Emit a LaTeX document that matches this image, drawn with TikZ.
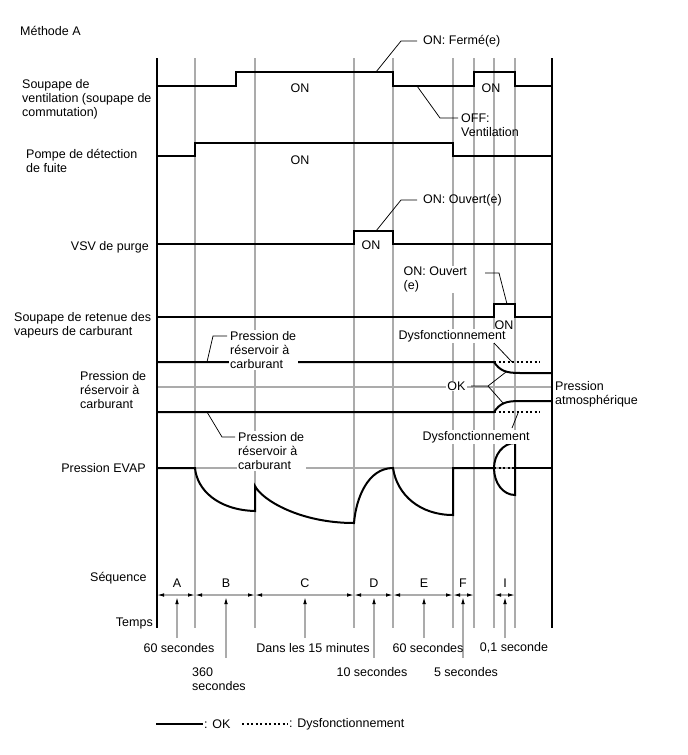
\documentclass[tikz,border=0pt]{standalone}
\usepackage{fontspec}
\setmainfont{Liberation Sans}
\usetikzlibrary{arrows.meta}
\begin{document}
\begin{tikzpicture}[x=1pt,y=-1pt,
  lbl/.style={inner sep=0pt, font=\fontsize{12.5}{14}\selectfont, align=left},
  wlbl/.style={lbl, fill=white, inner xsep=1.5pt, inner ysep=1pt},
  sig/.style={line width=2pt, line join=miter},
  gridv/.style={line width=1.1pt, draw=black!33},
  frame/.style={line width=2pt},
  lead/.style={line width=0.75pt},
  dotted2/.style={line width=2pt, dash pattern=on 2.2pt off 2.3pt},
  dimarr/.style={line width=1.1pt, draw=black!33, {Latex[length=7pt,width=3.6pt,color=black]}-{Latex[length=7pt,width=3.6pt,color=black]}},
  ptr/.style={line width=1.1pt, draw=black!33, -{Latex[length=7pt,width=3.6pt,color=black]}},
]
\useasboundingbox (0,0) rectangle (688,755);
% grid lines
\foreach \x in {195,255,354,393,453,474,494,515} \draw[gridv] (\x,58) -- (\x,628);
\draw[gridv] (157,387) -- (552,387);
\draw[gridv] (157,468) -- (552,468);
\draw[frame] (157,58) -- (157,628);
\draw[frame] (552,58) -- (552,628);

% title and row labels
\node[lbl, anchor=west] (title) at (20,31) {Méthode A};
\node[lbl, anchor=west] (rvent) at (22,99) {Soupape de\\ventilation (soupape de\\commutation)};
\node[lbl, anchor=west] (rpompe) at (26,161) {Pompe de détection\\de fuite};
\node[lbl, anchor=east] (rvsv) at (149,247) {VSV de purge};
\node[lbl, anchor=west] (rret) at (14,325) {Soupape de retenue des\\vapeurs de carburant};
\node[lbl, anchor=west] (rpres) at (80,390) {Pression de\\réservoir à\\carburant};
\node[lbl, anchor=east] (revap) at (146,468) {Pression EVAP};

% signals
\draw[sig] (157,86) -- (236,86) -- (236,72) -- (393,72) -- (393,86) -- (474,86) -- (474,72) -- (515,72) -- (515,86) -- (552,86);
\draw[sig] (157,156) -- (195,156) -- (195,143) -- (453,143) -- (453,156) -- (552,156);
\draw[sig] (157,244) -- (354,244) -- (354,231) -- (393,231) -- (393,244) -- (552,244);
\draw[sig] (157,317) -- (494,317) -- (494,304) -- (515,304) -- (515,317) -- (552,317);

\node[lbl] (on1) at (300,88) {ON};
\node[lbl] (on2) at (491,88) {ON};
\node[lbl] (on3) at (300,160) {ON};
\node[lbl] (on4) at (371,245) {ON};
\node[lbl] (on5) at (504,325) {ON};

% fuel tank pressure
\draw[sig] (157,362) -- (494,362) .. controls (500,371) and (506,373) .. (520,373) -- (552,373);
\draw[sig] (157,412) -- (494,412) .. controls (500,403) and (506,401) .. (520,401) -- (552,401);
\draw[dotted2] (494,362) -- (540,362);
\draw[dotted2] (494,412) -- (540,412);

% EVAP pressure
\draw[sig] (157,468) -- (195,468) .. controls (197,490) and (218,510) .. (255,511) -- (255,486)
  .. controls (262,500) and (300,523) .. (354,523)
  .. controls (356,498) and (368,468) .. (393,468)
  .. controls (397,495) and (420,515) .. (453,515) -- (453,468) -- (494,468);
\draw[sig] (515,443) .. controls (503,443) and (494,455) .. (494,468) .. controls (494,483) and (503,495) .. (515,495) -- cycle;
\draw[sig] (515,468) -- (552,468);
\draw[dotted2] (494,468) -- (515,468);

% annotations with leaders
\node[lbl, anchor=west] (ferme) at (423,41) {ON: Fermé(e)};
\coordinate (fermeTip) at (376,72);
\coordinate (fermeEl) at (401,41);
\draw[lead] (fermeTip) -- (fermeEl) -- ([xshift=-6pt]ferme.west);

\node[lbl, anchor=west] (offv) at (461,125) {OFF:\\Ventilation};
\coordinate (offTip) at (417,86);
\coordinate (offEl) at (440,118);
\coordinate (offEnd) at (458,118);
\draw[lead] (offTip) -- (offEl) -- (offEnd);

\node[lbl, anchor=west] (ouv1) at (423,200) {ON: Ouvert(e)};
\coordinate (ouv1Tip) at (376,231);
\coordinate (ouv1El) at (401,200);
\draw[lead] (ouv1Tip) -- (ouv1El) -- ([xshift=-6pt]ouv1.west);

\node[wlbl, anchor=west] (ouv2) at (402,279.5) {ON: Ouvert\\(e)};
\coordinate (ouv2Tip) at (507,304);
\coordinate (ouv2El) at (499,273);
\coordinate (ouv2End) at (485,273);
\draw[lead] (ouv2Tip) -- (ouv2El) -- (ouv2End);

\node[wlbl] (dys1) at (452,336) {Dysfonctionnement};
\coordinate (dys1Base) at (494,343);
\coordinate (dys1Tip) at (512,362);
\draw[lead] (dys1Base) -- (dys1Tip);

\node[wlbl] (ok) at (456.5,386) {OK};
\coordinate (okFork) at (488,386);
\coordinate (okUp) at (506,372);
\coordinate (okDn) at (503,403);
\draw[lead] ([xshift=4pt]ok.east) -- (okFork) -- (okUp);
\draw[lead] (okFork) -- (okDn);

\node[lbl, anchor=west] (patm) at (555,394) {Pression\\atmosphérique};

\node[wlbl] (dys2) at (476,437) {Dysfonctionnement};
\coordinate (dys2Base) at (512,428);
\coordinate (dys2Tip) at (518,413);
\draw[lead] (dys2Base) -- (dys2Tip);

\node[wlbl, anchor=west] (pft1) at (228.5,350) {Pression de\\réservoir à\\carburant};
\coordinate (pft1Tip) at (207,362);
\coordinate (pft1El) at (213,336);
\coordinate (pft1End) at (227,336);
\draw[lead] (pft1Tip) -- (pft1El) -- (pft1End);

\node[wlbl, anchor=west] (pft2) at (236.5,451) {Pression de\\réservoir à\\carburant};
\coordinate (pft2Tip) at (207,412);
\coordinate (pft2El) at (222,437);
\coordinate (pft2End) at (235,437);
\draw[lead] (pft2Tip) -- (pft2El) -- (pft2End);

% sequence
\node[lbl, anchor=west] (seq) at (90,578) {Séquence};
\node[lbl, anchor=east] (temps) at (153,623) {Temps};
\foreach \a/\b/\m/\L in {157/195/177/A, 195/255/226/B, 255/354/305/C, 354/393/374/D, 393/453/424/E, 453/474/463/F, 494/515/505/I}{
  \draw[dimarr] (\a,595) -- (\b,595);
  \node[lbl] at (\m,583) {\L};
}
\foreach \n/\x/\y in {pA/177/638, pB/226/658, pC/305/638, pD/374/658, pE/424/638, pF/463/658, pI/505/638}{
  \coordinate (\n) at (\x,\y);
  \coordinate (\n top) at (\x,597);
  \draw[ptr] (\n) -- (\n top);
}

\node[lbl] (tA) at (179,648) {60 secondes};
\node[lbl, anchor=west] (tB) at (192,679) {360\\secondes};
\node[lbl] (tC) at (313,648) {Dans les 15 minutes};
\node[lbl] (tD) at (372,672) {10 secondes};
\node[lbl] (tE) at (428,648) {60 secondes};
\node[lbl] (tF) at (466,672) {5 secondes};
\node[lbl] (tI) at (514,648) {0,1 seconde};

% legend
\coordinate (lg1a) at (156,724);
\coordinate (lg1b) at (203,724);
\draw[sig] (lg1a) -- (lg1b);
\node[lbl, anchor=west] (lgok) at (204,724) {: OK};
\coordinate (lg2a) at (242,724);
\coordinate (lg2b) at (288,724);
\draw[dotted2, line width=1.6pt] (lg2a) -- (lg2b);
\node[lbl, anchor=west] (lgdys) at (289,724) {: Dysfonctionnement};
\end{tikzpicture}
\end{document}
